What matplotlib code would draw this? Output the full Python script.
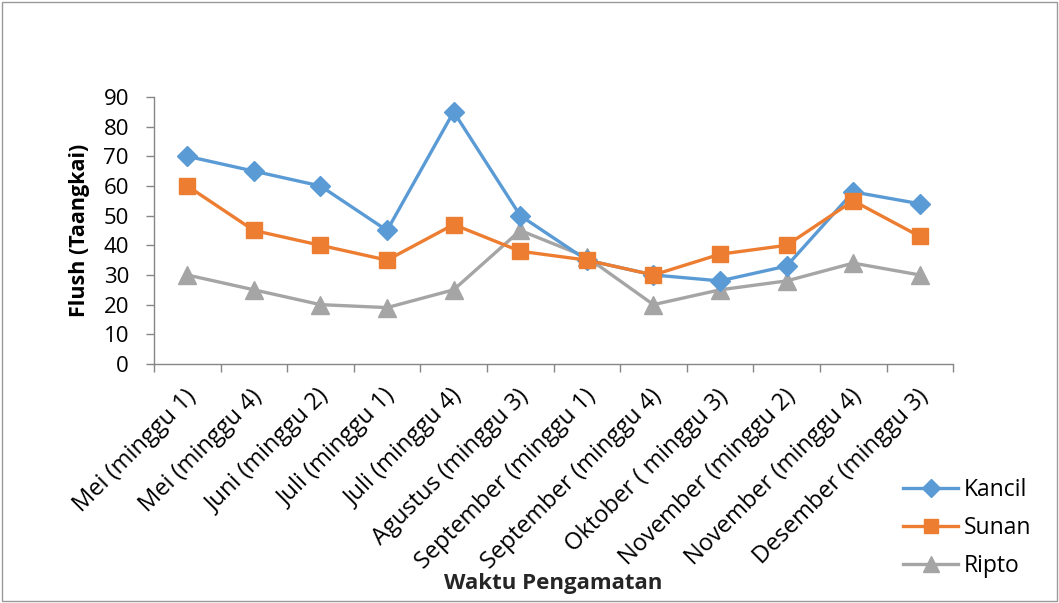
import matplotlib.pyplot as plt
import matplotlib.transforms as mtransforms
from matplotlib.patches import Rectangle

plt.rcParams['font.family'] = ['Open Sans', 'DejaVu Sans']

# Waktu pengamatan (sumbu x)
waktu = ['Mei (minggu 1)', 'Mei (minggu 4)', 'Juni (minggu 2)', 'Juli (minggu 1)',
         'Juli (minggu 4)', 'Agustus (minggu 3)', 'September (minggu 1)',
         'September (minggu 4)', 'Oktober ( minggu 3)', 'November (minggu 2)',
         'November (minggu 4)', 'Desember (minggu 3)']

# Jumlah flush per varietas
kancil = [70, 65, 60, 45, 85, 50, 35, 30, 28, 33, 58, 54]
sunan = [60, 45, 40, 35, 47, 38, 35, 30, 37, 40, 55, 43]
ripto = [30, 25, 20, 19, 25, 45, 36, 20, 25, 28, 34, 30]

fig = plt.figure(figsize=(10.59, 6.03), dpi=100)
ax = fig.add_axes([0.1454, 0.3964, 0.7546, 0.4428])

x = range(len(waktu))
ax.plot(x, kancil, color='#5B9BD5', lw=2.4, marker='D', ms=10.5, label='Kancil', zorder=3)
ax.plot(x, sunan, color='#ED7D31', lw=2.4, marker='s', ms=12, label='Sunan', zorder=4)
ax.plot(x, ripto, color='#A5A5A5', lw=2.4, marker='^', ms=13, label='Ripto', zorder=2)

ax.set_xlim(-0.5, len(waktu) - 0.5)
ax.set_ylim(0, 90)
ax.set_yticks(range(0, 91, 10))
ax.set_xticks(list(x))
ax.set_xticklabels(waktu, rotation=45, ha='right', va='center', rotation_mode='anchor')
ax.set_xticks([i - 0.5 for i in range(len(waktu) + 1)], minor=True)
ax.tick_params(axis='x', which='major', length=0, pad=21, labelsize=17)
ax.tick_params(axis='x', which='minor', length=6, color='#868686', width=1)
ax.tick_params(axis='y', length=6, color='#868686', width=1, labelsize=16, pad=12)

# geser label kategori sedikit ke kanan
geser = mtransforms.ScaledTranslation(5 / 100, 0, fig.dpi_scale_trans)
for lbl in ax.get_xticklabels():
    lbl.set_transform(lbl.get_transform() + geser)

for s in ['top', 'right']:
    ax.spines[s].set_visible(False)
for s in ['left', 'bottom']:
    ax.spines[s].set_color('#868686')
    ax.spines[s].set_linewidth(1)
for ln in ax.lines:
    ln.set_clip_on(False)

# judul sumbu
fig.text(80 / 1059, 1 - 230 / 603, 'Flush (Taangkai)', rotation=90, ha='center', va='center',
         fontsize=15.5, fontweight='bold')
fig.text(553 / 1059, 1 - 583 / 603, 'Waktu Pengamatan', ha='center', va='center',
         fontsize=16, fontweight='bold', color='#262626')

leg = fig.legend(loc='center left', bbox_to_anchor=(903 / 1059, 1 - 528 / 603), frameon=False,
                 fontsize=16.5, handlelength=2.4, handletextpad=0.25, labelspacing=0.62,
                 borderaxespad=0, borderpad=0, markerscale=0.85)

# bingkai area grafik
fig.patches.append(Rectangle((0.002, 0.004), 0.996, 0.993, transform=fig.transFigure,
                             fill=False, edgecolor='#9a9a9a', lw=1))

fig.savefig('out.png', dpi=100)
